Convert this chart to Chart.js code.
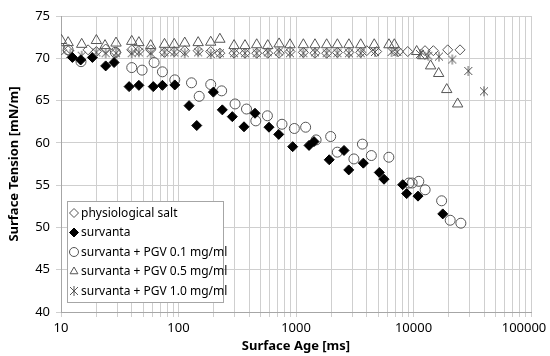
<!DOCTYPE html>
<html>
<head>
<meta charset="utf-8">
<script src="https://cdn.jsdelivr.net/npm/chart.js@4.4.1/dist/chart.umd.min.js"></script>
<style>
  html, body { margin: 0; padding: 0; background: #fff; }
  #wrap { width: 550px; height: 356px; position: relative; }
</style>
</head>
<body>
<div id="wrap"><canvas id="tensionChart" width="550" height="356"></canvas></div>
<script>
(function () {
    'use strict';

    // surface age [ms] / surface tension [mN/m]
    var saltAge = [10.1, 11.5, 17, 20, 24, 29.4, 40, 46, 58, 76, 92, 113, 147, 188, 225, 297, 368, 463, 575, 718,
        889, 1155, 1450, 1824, 2250, 2820, 3555, 4000, 4860, 7430, 8930, 12530, 14760, 19550, 24890];
    var saltTension = [71.0, 70.9, 71.0, 70.8, 71.1, 70.7, 71.0, 70.9, 71.0, 70.7, 70.8, 70.9, 70.9, 70.8, 70.6, 70.6, 70.6, 70.6, 70.6, 70.6,
        70.8, 70.7, 70.6, 70.6, 70.7, 70.7, 70.7, 70.9, 70.8, 70.8, 70.8, 70.9, 70.9, 71.0, 71.0];

    var survAge = [12.5, 14.7, 18.5, 24, 28.3, 38, 46, 61, 73, 93, 123, 143, 198, 236, 287, 361, 448, 589, 713, 937,
        1291, 1423, 1918, 2563, 2811, 3741, 5116, 5612, 8090, 8750, 10920, 17750];
    var survTension = [70.1, 69.8, 70.1, 69.1, 69.5, 66.65, 66.8, 66.65, 66.8, 66.85, 64.4, 62.05, 66.0, 63.9, 63.1, 61.9, 63.5, 61.85, 61.0, 59.55,
        59.7, 60.15, 58.0, 59.1, 56.8, 57.6, 56.5, 55.7, 55.05, 54.0, 53.7, 51.6];

    var pgv01Age = [11.5, 14.8, 29, 40, 49, 62, 73, 93, 129, 150, 188, 233, 303, 379, 455, 571, 760, 968, 1208, 1483,
        1972, 2247, 3110, 3674, 4378, 6170, 9150, 9740, 11100, 12560, 17350, 20520, 25300];
    var pgv01Tension = [71.0, 69.6, 70.7, 68.9, 68.6, 69.5, 68.4, 67.45, 67.1, 65.5, 66.9, 66.15, 64.6, 64.0, 62.6, 63.2, 62.2, 61.7, 61.85, 60.35,
        60.75, 58.9, 58.1, 59.85, 58.5, 58.3, 55.25, 55.25, 55.45, 54.45, 53.15, 50.85, 50.5];

    var pgv05Age = [10.1, 11.5, 15, 20, 23.7, 29.4, 40, 46, 58, 76, 92, 113, 147, 188, 225, 297, 368, 463, 575, 718,
        889, 1155, 1450, 1824, 2250, 2820, 3555, 4634, 6180, 6866, 10640, 11970, 13990, 16370, 19180, 23760];
    var pgv05Tension = [72.1, 71.85, 71.65, 72.1, 71.5, 71.8, 72.0, 71.85, 71.5, 71.65, 71.65, 71.8, 71.85, 71.9, 72.25, 71.5, 71.5, 71.6, 71.5, 71.7,
        71.6, 71.6, 71.6, 71.6, 71.6, 71.6, 71.6, 71.6, 71.6, 71.6, 70.8, 70.3, 69.1, 68.2, 66.3, 64.6];

    var pgv10Age = [12, 15, 20, 24, 29.4, 40, 46, 58, 76, 92, 113, 147, 188, 225, 297, 368, 463, 575, 718, 889,
        1155, 1450, 1824, 2250, 2820, 3555, 4700, 6510, 7280, 11350, 13370, 16480, 21380, 29240, 39800];
    var pgv10Tension = [70.5, 70.3, 70.7, 70.6, 70.6, 70.6, 70.7, 70.6, 70.7, 70.7, 70.6, 70.7, 70.5, 70.6, 70.6, 70.6, 70.6, 70.7, 70.8, 70.6,
        70.6, 70.7, 70.6, 70.6, 70.6, 70.6, 70.75, 70.75, 70.75, 70.5, 70.3, 70.2, 69.85, 68.5, 66.1];

    var seriesNames = ['physiological salt', 'survanta', 'survanta + PGV 0.1 mg/ml',
        'survanta + PGV 0.5 mg/ml', 'survanta + PGV 1.0 mg/ml'];
    var decadeLabels = [10, 100, 1000, 10000, 100000];
    var yTicks = [40, 45, 50, 55, 60, 65, 70, 75];

    var FONT = "'Noto Sans', 'DejaVu Sans', sans-serif";
    var GREY = '#555555';

    function toPoints(xs, ys) {
        return xs.map(function (x, i) { return { x: x, y: ys[i] }; });
    }

    // excel style star: x with a vertical bar
    function makeStar(size, color) {
        var c = document.createElement('canvas');
        c.width = size; c.height = size;
        var g = c.getContext('2d');
        var h = size / 2, r = size / 2 - 1;
        g.strokeStyle = color; g.lineWidth = 1;
        g.beginPath();
        g.moveTo(h - r * 0.8, h - r * 0.8); g.lineTo(h + r * 0.8, h + r * 0.8);
        g.moveTo(h + r * 0.8, h - r * 0.8); g.lineTo(h - r * 0.8, h + r * 0.8);
        g.moveTo(h, h - r); g.lineTo(h, h + r);
        g.stroke();
        return c;
    }
    var starImg = makeStar(12, GREY);

    var datasets = [
        { label: seriesNames[0], data: toPoints(saltAge, saltTension), pointStyle: 'rectRot', pointRadius: 5,
          borderColor: GREY, backgroundColor: 'rgba(255,255,255,0)', borderWidth: 1 },
        { label: seriesNames[1], data: toPoints(survAge, survTension), pointStyle: 'rectRot', pointRadius: 5,
          borderColor: '#000', backgroundColor: '#000', borderWidth: 1 },
        { label: seriesNames[2], data: toPoints(pgv01Age, pgv01Tension), pointStyle: 'circle', pointRadius: 5,
          borderColor: GREY, backgroundColor: 'rgba(255,255,255,0)', borderWidth: 1 },
        { label: seriesNames[3], data: toPoints(pgv05Age, pgv05Tension), pointStyle: 'triangle', pointRadius: 6,
          borderColor: GREY, backgroundColor: 'rgba(255,255,255,0)', borderWidth: 1 },
        { label: seriesNames[4], data: toPoints(pgv10Age, pgv10Tension), pointStyle: starImg, pointRadius: 6,
          borderColor: GREY, backgroundColor: GREY, borderWidth: 1 }
    ];

    function drawMarker(ctx, ds, x, y) {
        ctx.save();
        ctx.strokeStyle = ds.borderColor;
        ctx.fillStyle = ds.backgroundColor;
        ctx.lineWidth = 1;
        if (Chart.helpers && Chart.helpers.drawPoint) {
            Chart.helpers.drawPoint(ctx, { pointStyle: ds.pointStyle, radius: ds.pointRadius, borderWidth: 1, rotation: 0 }, x, y);
        } else if (ds.pointStyle instanceof HTMLCanvasElement) {
            ctx.drawImage(ds.pointStyle, x - ds.pointStyle.width / 2, y - ds.pointStyle.height / 2);
        }
        ctx.restore();
    }

    // legend box inside the plot, bottom left
    var insideLegend = {
        id: 'insideLegend',
        afterDraw: function (chart) {
            var ctx = chart.ctx;
            var bx = 67, by = 201, bw = 156, bh = 101;
            ctx.save();
            ctx.fillStyle = '#fff';
            ctx.fillRect(bx, by, bw, bh);
            ctx.strokeStyle = '#a6a6a6';
            ctx.lineWidth = 1;
            ctx.strokeRect(bx + 0.5, by + 0.5, bw, bh);
            ctx.font = '12px ' + FONT;
            ctx.fillStyle = '#000';
            ctx.textBaseline = 'middle';
            chart.data.datasets.forEach(function (ds, i) {
                var ry = by + 12 + i * 19.5;
                var small = Object.assign({}, ds, { pointRadius: Math.min(ds.pointRadius, 4.5) });
                drawMarker(ctx, small, bx + 7, ry);
                ctx.fillText(ds.label, bx + 14, ry + 0.5);
            });
            ctx.restore();
        }
    };

    // pull the last x label inside the canvas, as the original does
    var lastLabelShift = {
        id: 'lastLabelShift',
        beforeDraw: function (chart) {
            var sc = chart.scales.x;
            var items = sc.getLabelItems(chart.chartArea);
            for (var i = items.length - 1; i >= 0; i--) {
                if (items[i].label === '100000') {
                    items[i].options.translation[0] -= 7;
                    break;
                }
            }
        }
    };

    new Chart(document.getElementById('tensionChart'), {
        type: 'scatter',
        data: { datasets: datasets },
        plugins: [insideLegend, lastLabelShift],
        options: {
            responsive: false,
            animation: false,
            layout: { padding: { left: 4, top: 16, right: 19, bottom: 2 } },
            plugins: { legend: { display: false }, tooltip: { enabled: false } },
            scales: {
                x: {
                    type: 'logarithmic',
                    min: 10, max: 100000,
                    afterBuildTicks: function (scale) {
                        var t = [];
                        for (var d = 10; d < 100000; d *= 10) {
                            for (var k = 1; k < 10; k++) t.push({ value: d * k });
                        }
                        t.push({ value: 100000 });
                        scale.ticks = t;
                    },
                    afterFit: function (scale) {
                        scale.height = 42;
                        scale.paddingRight = 0;
                        scale.paddingLeft = 0;
                    },
                    grid: { color: '#cfcfcf', lineWidth: 1, tickLength: 5 },
                    border: { color: '#a6a6a6' },
                    ticks: {
                        autoSkip: false, maxRotation: 0, padding: 3,
                        color: '#000', font: { family: FONT, size: 13 },
                        callback: function (v) { return decadeLabels.indexOf(v) >= 0 ? String(v) : ''; }
                    },
                    title: {
                        display: true, text: 'Surface Age [ms]', color: '#000',
                        font: { family: FONT, size: 13, weight: 'bold' }, padding: { top: 2, bottom: 0 }
                    }
                },
                y: {
                    min: 40, max: 75,
                    afterBuildTicks: function (scale) {
                        scale.ticks = yTicks.map(function (v) { return { value: v }; });
                    },
                    afterFit: function (scale) { scale.width = 57; },
                    grid: { color: '#cfcfcf', lineWidth: 1, tickLength: 5 },
                    border: { color: '#a6a6a6' },
                    ticks: { padding: 6, color: '#000', font: { family: FONT, size: 13 } },
                    title: {
                        display: true, text: 'Surface Tension [mN/m]', color: '#000',
                        font: { family: FONT, size: 13, weight: 'bold' }, padding: { top: 2, bottom: 4 }
                    }
                }
            }
        }
    });
})();
</script>
</body>
</html>
